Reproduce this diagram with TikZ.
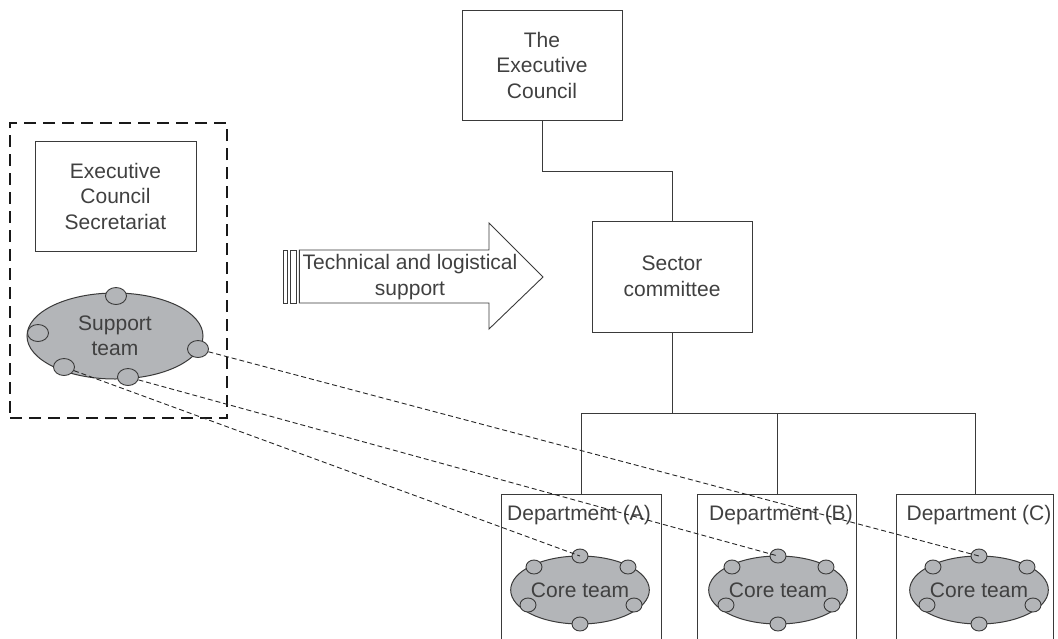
\documentclass[tikz,border=0pt]{standalone}
\usepackage{fontspec}
\setmainfont{Liberation Sans}
\usetikzlibrary{shapes.geometric}
\definecolor{ln}{HTML}{3A3A3A}
\definecolor{tx}{HTML}{404040}
\definecolor{fillg}{HTML}{B3B5B8}
\begin{document}
\begin{tikzpicture}[x=1pt,y=-1pt,
  every node/.style={font=\fontsize{21}{25.5}\selectfont, text=tx, inner sep=0pt},
  box/.style={draw=ln, line width=1pt, align=center},
  frame/.style={draw=none},
  team/.style={ellipse, draw=ln, line width=1pt, fill=fillg, align=center},
  dot/.style={ellipse, draw=ln, line width=0.9pt, fill=fillg, minimum width=16, minimum height=14},
  bigdot/.style={dot, minimum width=21, minimum height=17},
  link/.style={draw=ln, line width=1pt},
  dashlink/.style={draw=black!85, line width=0.9pt, dash pattern=on 5pt off 3pt},
  group/.style={draw=black!90, line width=2.5pt, dash pattern=on 12pt off 7pt},
  arrowln/.style={draw=ln, line width=0.9pt}
]
\useasboundingbox (0,0) rectangle (1058,638);

% top hierarchy
\node[box, minimum width=160, minimum height=110] (ec) at (542,65) {The\\Executive\\Council};
\node[box, minimum width=160, minimum height=111] (sc) at (672,276.5) {Sector\\committee};

% departments (open at bottom)
\node[frame, minimum width=159, minimum height=150] (dA) at (581.5,570) {};
\node[frame, minimum width=158, minimum height=150] (dB) at (777,570) {};
\node[frame, minimum width=156, minimum height=150] (dC) at (975,570) {};
\foreach \d in {dA,dB,dC}{
  \draw[link] (\d.south west) |- (\d.north east) -- (\d.south east);
}
\node (lA) at (579,515) {Department (A)};
\node (lB) at (781,515) {Department (B)};
\node (lC) at (979,515) {Department (C)};

% connectors
\draw[link] (ec.south) -- ++(0,51) coordinate (e1) -| (sc.north);
\draw[link] (sc.south) -- ++(0,81) coordinate (bus);
\draw[link] (dA.north) |- (dC.north |- bus) -- (dC.north);
\draw[link] (dB.north |- bus) -- (dB.north);

% core teams
\foreach \n/\cx in {A/580,B/778,C/979}{
  \begin{scope}[shift={(\cx,590)}]
    \node[team, minimum width=120, minimum height=68] (ct\n) at (0,0) {Core team};
    \node[dot] (ct\n t) at (0,-34) {};
    \node[dot] (ct\n ul) at (-46,-23) {};
    \node[dot] (ct\n ur) at (48,-23) {};
    \node[dot] (ct\n ll) at (-52,15) {};
    \node[dot] (ct\n lr) at (54,15) {};
    \node[dot] (ct\n b) at (0,34) {};
  \end{scope}
}

% secretariat group
\node[group, minimum width=217, minimum height=295] (grp) at (118.5,270.5) {};
\node[box, minimum width=161, minimum height=110] (sec) at (115.5,196) {Executive\\Council\\Secretariat};
\node[team, minimum width=176, minimum height=86] (st) at (115,336) {Support\\team};
\node[bigdot] (sT) at (116,296) {};
\node[bigdot] (sLf) at (38,333) {};
\node[bigdot] (sR) at (198,349) {};
\node[bigdot] (sL) at (64,367) {};
\node[bigdot] (sB) at (128,377) {};

% dashed links
\draw[dashlink] (sL) -- (ctAt.center);
\draw[dashlink] (sB) -- (ctBt.center);
\draw[dashlink] (sR) -- (ctCt.center);

% support arrow
\draw[arrowln] (299.3,250) -- (489,250) -- (489,223) -- (543,277) -- (489,329) -- (489,303) -- (299.3,303) -- cycle;
\draw[arrowln] (283.3,250) rectangle (287.7,303);
\draw[arrowln] (290,250) rectangle (296.7,303);
\node[align=center] (arr) at (410,277) {Technical and logistical\\support};
\end{tikzpicture}
\end{document}
